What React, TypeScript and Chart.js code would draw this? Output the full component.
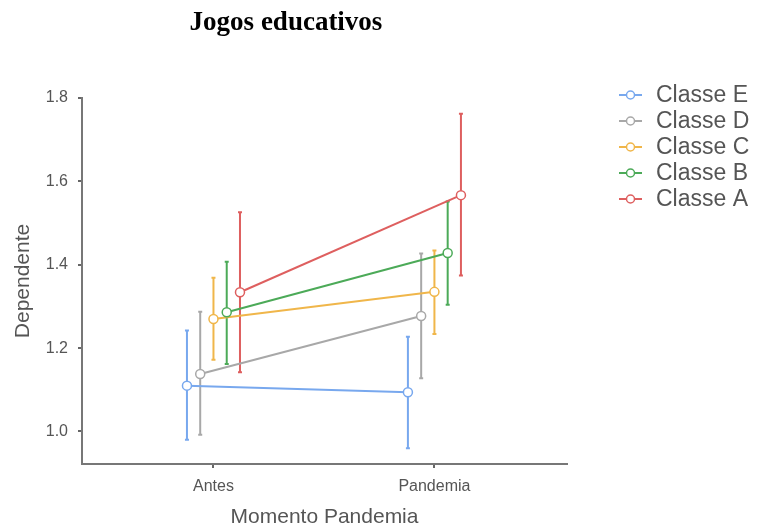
import React, { useEffect, useRef } from "react";
import { Chart, registerables } from "chart.js";

Chart.register(...registerables);

const categories = ["Antes", "Pandemia"];
const seriesNames = ["Classe E", "Classe D", "Classe C", "Classe B", "Classe A"];
const seriesColors = ["#78a8ee", "#a8a8a8", "#f0b64a", "#4caa58", "#de5f5f"];
const dodge = [-0.12, -0.06, 0, 0.06, 0.12];
const means = [
  [1.11, 1.094],
  [1.138, 1.277],
  [1.27, 1.335],
  [1.286, 1.428],
  [1.334, 1.567],
];
const lower = [
  [0.98, 0.96],
  [0.992, 1.128],
  [1.172, 1.234],
  [1.162, 1.304],
  [1.142, 1.374],
];
const upper = [
  [1.242, 1.227],
  [1.287, 1.427],
  [1.369, 1.434],
  [1.407, 1.552],
  [1.526, 1.762],
];
const yTicks = [1.0, 1.2, 1.4, 1.6, 1.8];
const titleText = "Jogos educativos";
const xTitle = "Momento Pandemia";
const yTitle = "Dependente";

const errorBarPlugin = {
  id: "errorBars",
  beforeDatasetsDraw(chart: any) {
    const { ctx, scales } = chart;
    const xs = scales.x;
    const ys = scales.y;
    ctx.save();
    ctx.lineWidth = 2;
    for (let s = 0; s < seriesNames.length; s++) {
      ctx.strokeStyle = seriesColors[s];
      for (let c = 0; c < categories.length; c++) {
        const px = xs.getPixelForValue(c + dodge[s]);
        const yl = ys.getPixelForValue(lower[s][c]);
        const yu = ys.getPixelForValue(upper[s][c]);
        ctx.beginPath();
        ctx.moveTo(px, yl);
        ctx.lineTo(px, yu);
        ctx.moveTo(px - 2, yl);
        ctx.lineTo(px + 2, yl);
        ctx.moveTo(px - 2, yu);
        ctx.lineTo(px + 2, yu);
        ctx.stroke();
      }
    }
    ctx.restore();
  },
};

const decorPlugin = {
  id: "decor",
  afterDraw(chart: any) {
    const { ctx } = chart;
    ctx.save();
    // title
    ctx.fillStyle = "#000";
    ctx.font = "bold 27px 'Liberation Serif', 'Times New Roman', serif";
    ctx.textAlign = "center";
    ctx.textBaseline = "middle";
    ctx.fillText(titleText, 286, 23);
    // legend
    ctx.font = "23px 'Liberation Sans', Arial, sans-serif";
    ctx.textAlign = "left";
    for (let i = 0; i < seriesNames.length; i++) {
      const y = 95 + i * 26;
      ctx.strokeStyle = seriesColors[i];
      ctx.lineWidth = 2;
      ctx.beginPath();
      ctx.moveTo(619, y);
      ctx.lineTo(642, y);
      ctx.stroke();
      ctx.beginPath();
      ctx.arc(630.5, y, 4, 0, Math.PI * 2);
      ctx.fillStyle = "#fff";
      ctx.fill();
      ctx.lineWidth = 1.5;
      ctx.stroke();
      ctx.fillStyle = "#555";
      ctx.fillText(seriesNames[i], 656, y + 1);
    }
    ctx.restore();
  },
};

export default function App() {
  const ref = useRef<HTMLCanvasElement>(null);
  useEffect(() => {
    if (!ref.current) return;
    const datasets = seriesNames.map((name, s) => ({
      label: name,
      data: categories.map((_, c) => ({ x: c + dodge[s], y: means[s][c] })),
      borderColor: seriesColors[s],
      backgroundColor: "#ffffff",
      pointBackgroundColor: "#ffffff",
      pointBorderColor: seriesColors[s],
      pointBorderWidth: 1.5,
      pointRadius: 4.5,
      borderWidth: 2,
      showLine: true,
      tension: 0,
      order: seriesNames.length - s,
    }));
    const chart = new Chart(ref.current, {
      type: "scatter",
      data: { datasets },
      plugins: [errorBarPlugin, decorPlugin],
      options: {
        animation: false,
        responsive: false,
        maintainAspectRatio: false,
        layout: { padding: { top: 98, right: 192, left: 0, bottom: 0 } },
        plugins: {
          legend: { display: false },
          tooltip: { enabled: false },
          title: { display: false },
        },
        scales: {
          x: {
            type: "linear",
            min: -0.595,
            max: 1.6,
            afterBuildTicks: (scale: any) => {
              scale.ticks = categories.map((_, i) => ({ value: i }));
            },
            afterFit: (scale: any) => {
              scale.height = 63;
            },
            ticks: {
              callback: (v: any) => categories[Math.round(Number(v))] ?? "",
              color: "#555",
              font: { family: "'Liberation Sans', Arial, sans-serif", size: 16 },
              padding: 9,
              maxRotation: 0,
              autoSkip: false,
            },
            grid: { drawOnChartArea: false, drawTicks: true, tickLength: 4, color: "#666", lineWidth: 2 },
            border: { display: true, color: "#777", width: 2 },
            title: {
              display: true,
              text: xTitle,
              color: "#555",
              font: { family: "'Liberation Sans', Arial, sans-serif", size: 21, lineHeight: 1 },
              padding: { top: 0, bottom: -1 },
            },
          },
          y: {
            type: "linear",
            min: 0.922,
            max: 1.8,
            afterBuildTicks: (scale: any) => {
              scale.ticks = yTicks.map((v) => ({ value: v }));
            },
            afterFit: (scale: any) => {
              scale.width = 82;
            },
            ticks: {
              callback: (v: any) => Number(v).toFixed(1),
              color: "#555",
              font: { family: "'Liberation Sans', Arial, sans-serif", size: 16 },
              padding: 10,
            },
            grid: { drawOnChartArea: false, drawTicks: true, tickLength: 4, color: "#666", lineWidth: 2 },
            border: { display: true, color: "#777", width: 2 },
            title: {
              display: true,
              text: yTitle,
              color: "#555",
              font: { family: "'Liberation Sans', Arial, sans-serif", size: 21, lineHeight: 1 },
              padding: { top: 13, bottom: 0 },
            },
          },
        },
      },
    });
    return () => chart.destroy();
  }, []);
  return (
    <div style={{ position: "absolute", left: 0, top: 0, width: 759, height: 527, background: "#fff" }}>
      <canvas ref={ref} width={759} height={527} style={{ width: 759, height: 527, display: "block" }} />
    </div>
  );
}
